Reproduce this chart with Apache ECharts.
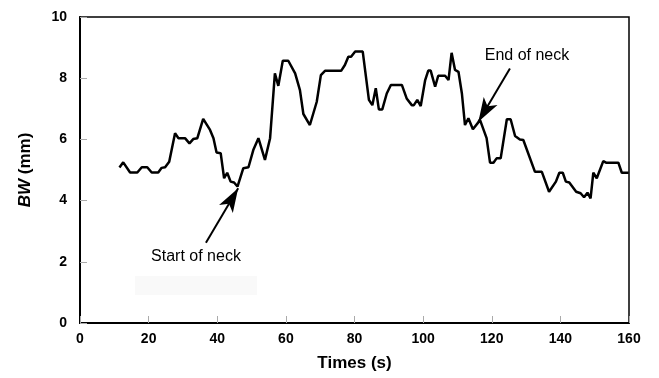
<!DOCTYPE html>
<html>
<head>
<meta charset="utf-8">
<script src="https://cdn.jsdelivr.net/npm/echarts@6/dist/echarts.min.js"></script>
<style>
  html, body { margin: 0; padding: 0; background: #fff; }
  #chart { width: 659px; height: 378px; }
</style>
</head>
<body>
<div id="chart"></div>
<script>
// values: time (s) and BW (mm)
const times = [11.5,12.6,14.6,16.7,18.0,19.6,20.9,22.8,23.8,24.8,
  26.0,27.7,28.7,30.6,31.9,33.0,34.2,35.9,37.9,38.9,
  39.8,41.0,42.0,42.9,43.9,44.9,45.9,47.6,49.1,50.5,
  52.0,53.9,55.4,56.8,57.8,59.1,60.7,62.7,64.1,65.1,
  67.0,69.0,70.2,71.4,76.1,77.2,78.2,79.0,80.2,82.4,
  84.2,85.2,86.2,87.1,88.1,89.4,90.6,93.8,95.2,96.7,
  97.3,98.3,99.3,100.6,101.5,102.2,103.5,104.4,106.4,107.4,
  108.3,109.3,110.3,111.3,112.2,113.2,114.5,116.6,118.5,119.5,
  120.5,121.4,122.6,124.4,125.5,126.8,128.2,129.2,132.6,134.6,
  136.7,138.7,139.7,140.7,141.6,142.6,144.6,145.9,146.9,147.9,
  148.8,149.6,150.6,152.5,153.3,156.9,157.9,159.9];
const bw = [5.08,5.25,4.92,4.92,5.09,5.09,4.92,4.92,5.07,5.09,
  5.27,6.2,6.04,6.04,5.87,6.01,6.04,6.67,6.31,6.04,
  5.57,5.55,4.73,4.91,4.62,4.59,4.46,5.06,5.09,5.65,
  6.04,5.33,6.04,8.16,7.75,8.57,8.57,8.16,7.61,6.83,
  6.47,7.23,8.1,8.24,8.24,8.43,8.7,8.7,8.87,8.87,
  7.29,7.12,7.67,6.98,6.98,7.5,7.78,7.78,7.34,7.12,
  7.12,7.29,7.09,7.94,8.25,8.25,7.72,8.08,8.08,7.94,
  8.83,8.27,8.21,7.5,6.47,6.69,6.33,6.63,6.04,5.24,
  5.24,5.38,5.38,6.66,6.66,6.11,6.0,5.98,4.94,4.94,
  4.29,4.62,4.91,4.91,4.62,4.59,4.29,4.24,4.11,4.26,
  4.07,4.91,4.73,5.29,5.24,5.24,4.91,4.91];

// annotation arrows: [tail, head] in data coords
const startArrow = [[36.7, 2.62], [46.1, 4.40]];
const endArrow = [[125.3, 8.32], [116.1, 6.58]];
const startLabel = 'Start of neck';
const endLabel = 'End of neck';

const FONT = 'Arial, "Liberation Sans", Helvetica, sans-serif';

const chart = echarts.init(document.getElementById('chart'), null, { renderer: 'canvas' });

const arrowLine = (pts) => ([
  { coord: pts[0], symbol: 'none' },
  { coord: pts[1], symbol: 'arrow', symbolSize: [12, 24] }
]);

chart.setOption({
  animation: false,
  backgroundColor: '#fff',
  grid: {
    left: 80, right: 30, top: 17, bottom: 55,
    show: true, borderColor: '#000', borderWidth: 1.5
  },
  xAxis: {
    type: 'value',
    min: 0, max: 160, interval: 20,
    name: 'Times (s)',
    nameLocation: 'middle',
    nameGap: 32,
    nameTextStyle: { fontFamily: FONT, fontWeight: 'bold', fontSize: 17, color: '#000' },
    axisLine: { lineStyle: { color: '#000', width: 2 } },
    axisTick: { inside: true, length: 7, lineStyle: { color: '#aaa', width: 1 } },
    axisLabel: { fontFamily: FONT, fontWeight: 'bold', fontSize: 14, color: '#000', margin: 9 },
    splitLine: { show: false }
  },
  yAxis: {
    type: 'value',
    min: 0, max: 10, interval: 2,
    name: '{i|BW} (mm)',
    nameLocation: 'middle',
    nameGap: 46,
    nameTextStyle: {
      fontFamily: FONT, fontWeight: 'bold', fontSize: 17, color: '#000',
      rich: { i: { fontFamily: FONT, fontWeight: 'bold', fontStyle: 'italic', fontSize: 17, color: '#000' } }
    },
    axisLine: { lineStyle: { color: '#000', width: 2 } },
    axisTick: { inside: true, length: 7, lineStyle: { color: '#aaa', width: 1 } },
    axisLabel: { fontFamily: FONT, fontWeight: 'bold', fontSize: 14, color: '#000', margin: 13 },
    splitLine: { show: false }
  },
  graphic: [
    { type: 'rect', shape: { x: 135, y: 276, width: 122, height: 19 }, style: { fill: '#f9f9f9' }, z: -1 },
    { type: 'text', x: 196, y: 257, style: { text: startLabel, font: '16px ' + FONT, fill: '#000', textAlign: 'center', textVerticalAlign: 'middle' } },
    { type: 'text', x: 527, y: 56, style: { text: endLabel, font: '16px ' + FONT, fill: '#000', textAlign: 'center', textVerticalAlign: 'middle' } }
  ],
  series: [{
    type: 'line',
    data: times.map((t, i) => [t, bw[i]]),
    symbol: 'none',
    lineStyle: { color: '#000', width: 2.5 },
    markLine: {
      silent: true,
      animation: false,
      label: { show: false },
      lineStyle: { color: '#000', width: 2, type: 'solid' },
      data: [arrowLine(startArrow), arrowLine(endArrow)]
    }
  }]
});
</script>
</body>
</html>
